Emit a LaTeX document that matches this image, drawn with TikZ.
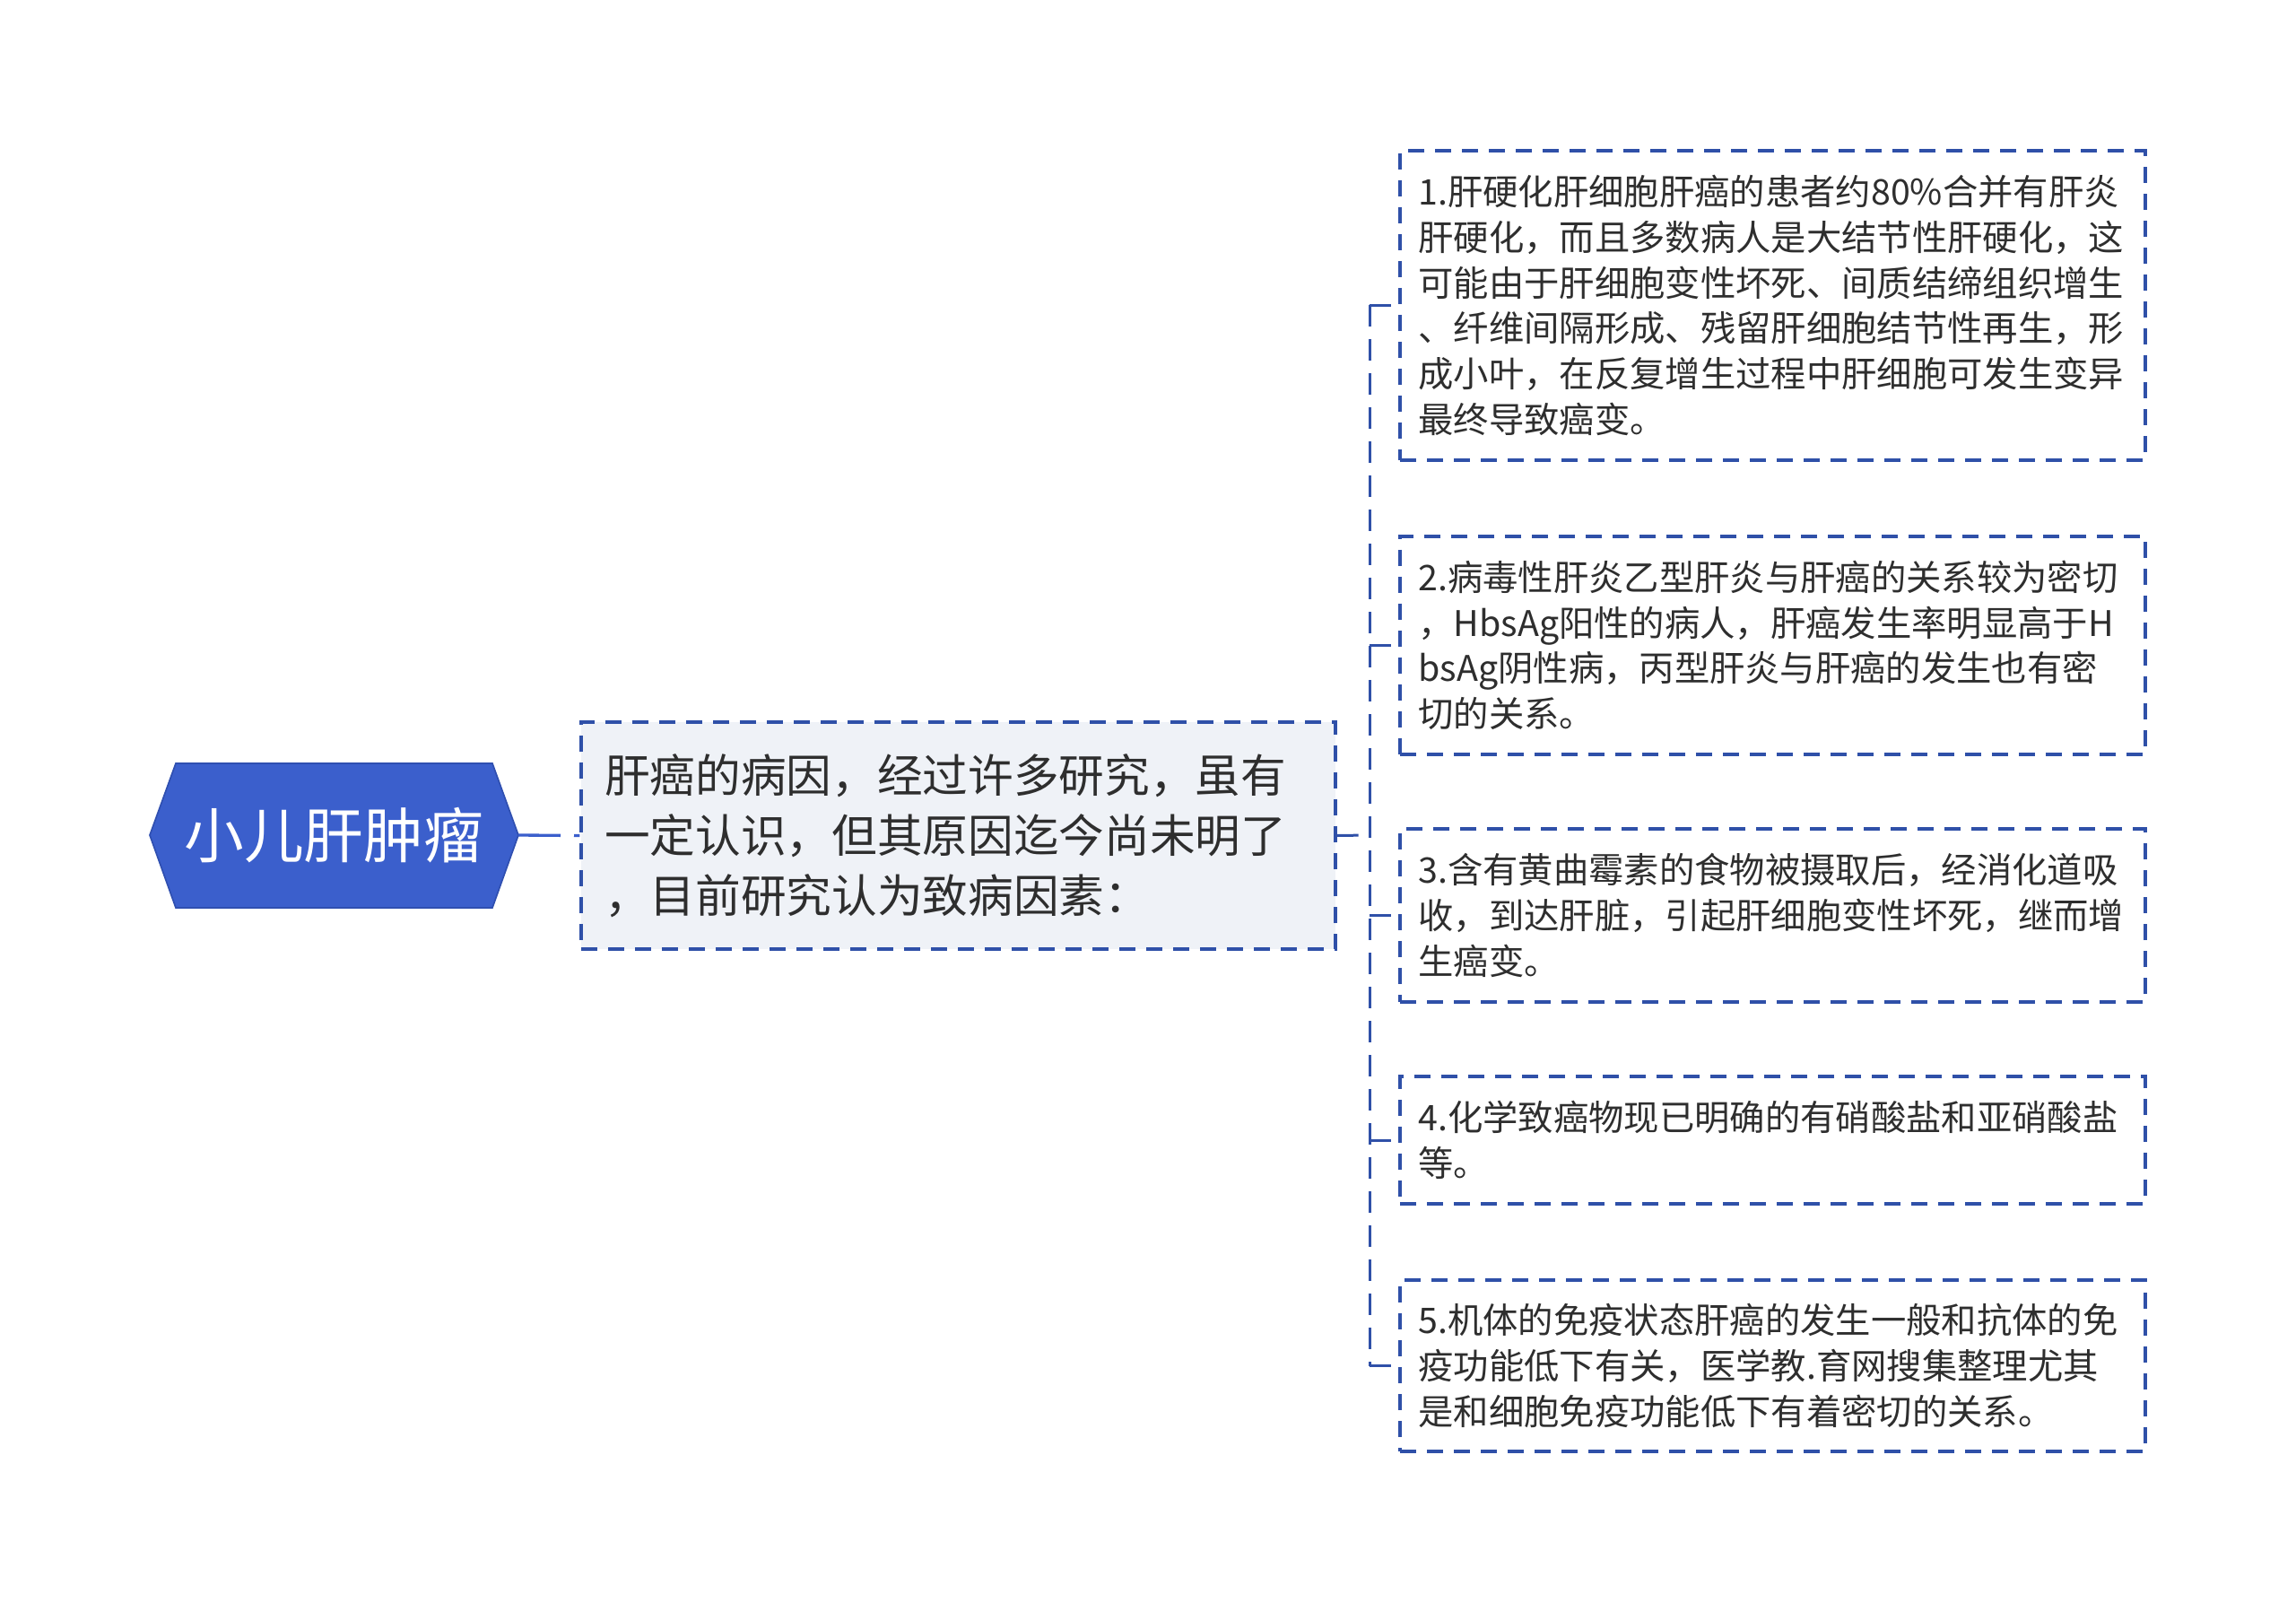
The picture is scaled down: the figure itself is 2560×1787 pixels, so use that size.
\documentclass[tikz,border=0pt]{standalone}
\usepackage{fontspec}
\setmainfont{Noto Sans CJK SC}
\definecolor{hexblue}{HTML}{3B5FCC}
\definecolor{hexedge}{HTML}{2F4FB0}
\definecolor{lineblue}{HTML}{2F50A8}
\definecolor{txt}{HTML}{2E2E2E}
\definecolor{midfill}{HTML}{EFF2F7}
\tikzset{
  leafbox/.style={draw=lineblue, line width=1pt, dash pattern=on 5.4pt off 3.6pt,
    text=txt, font=\fontsize{11.8pt}{15.2pt}\selectfont, align=left,
    text width=237pt, inner xsep=6.15pt, inner ysep=0pt, anchor=center},
  midbox/.style={draw=lineblue, fill=midfill, line width=1pt, dash pattern=on 5.4pt off 3.6pt,
    text=txt, font=\fontsize{15.2pt}{20.1pt}\selectfont, align=left,
    text width=236.7pt, inner xsep=7.8pt, inner ysep=0pt, minimum height=75.9pt, anchor=center},
  conn/.style={draw=lineblue, line width=0.9pt, dash pattern=on 7.2pt off 4.2pt},
  rootconn/.style={draw=hexblue, line width=1pt, dash pattern=on 14.1pt off 4.5pt},
  roottext/.style={text=white, font=\fontsize{20pt}{24pt}\selectfont, inner sep=0pt}
}
\begin{document}
\begin{tikzpicture}[x=0.3pt, y=-0.3pt]
\useasboundingbox (0,0) rectangle (2560,1787);
% root hexagon
\filldraw[fill=hexblue, draw=hexedge, line width=0.5pt] (167,931) -- (196,851) -- (549,851) -- (578,931) -- (549,1012) -- (196,1012) -- cycle;
\node[roottext] (root) at (372,931) {小儿肝肿瘤};
\coordinate (rootE) at (578,931);
% middle box
\node[midbox] (mid) at (1068.5,931.5) {肝癌的病因，经过许多研究，虽有\\一定认识，但其原因迄今尚未明了\\，目前研究认为致病因素：};
% leaf boxes
\node[leafbox, minimum height=103.5pt] (b1) at (1976.5,340.5) {1.肝硬化肝细胞肝癌的患者约80\%合并有肝炎\\肝硬化，而且多数病人是大结节性肝硬化，这\\可能由于肝细胞变性坏死、间质结缔组织增生\\、纤维间隔形成、残留肝细胞结节性再生，形\\成小叶，在反复增生过程中肝细胞可发生变异\\最终导致癌变。};
\node[leafbox, minimum height=72.9pt] (b2) at (1976.5,719.5) {2.病毒性肝炎乙型肝炎与肝癌的关系较为密切\\，HbsAg阳性的病人，肝癌发生率明显高于H\\bsAg阴性病，丙型肝炎与肝癌的发生也有密\\切的关系。};
\node[leafbox, minimum height=57.9pt] (b3) at (1976.5,1020.5) {3.含有黄曲霉素的食物被摄取后，经消化道吸\\收，到达肝脏，引起肝细胞变性坏死，继而增\\生癌变。};
\node[leafbox, minimum height=42.6pt] (b4) at (1976.5,1271) {4.化学致癌物现已明确的有硝酸盐和亚硝酸盐\\等。};
\node[leafbox, minimum height=57.3pt] (b5) at (1976.5,1522.5) {5.机体的免疫状态肝癌的发生一般和抗体的免\\疫功能低下有关，医学教.育网搜集整理尤其\\是和细胞免疫功能低下有着密切的关系。};
% connectors
\draw[rootconn] (rootE) -- (mid.west);
\coordinate (sp) at (1527,931);
\draw[conn] (mid.east) -- (sp);
\draw[conn] (sp |- b1.west) -- (sp |- b5.west);
\foreach \b in {b1,b2,b3,b4,b5}{
  \draw[conn] (sp |- \b.west) -- (\b.west);
}
\end{tikzpicture}
\end{document}
